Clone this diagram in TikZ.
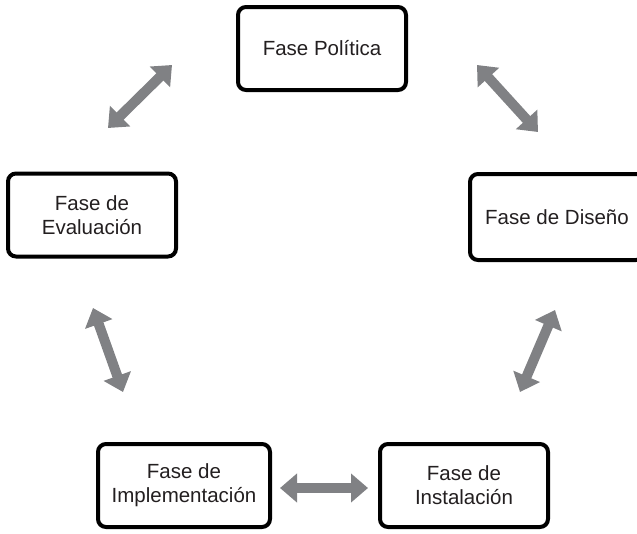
\documentclass[tikz,border=0pt]{standalone}
\usepackage{fontspec}
\setmainfont{Liberation Sans}
\usetikzlibrary{arrows.meta}
\definecolor{arrowgray}{RGB}{128,129,132}
\definecolor{textgray}{RGB}{35,31,32}

\begin{document}
\begin{tikzpicture}[x=1pt,y=-1pt,
    fase/.style={draw=black,line width=4pt,rounded corners=8pt,fill=white,
      minimum width=168pt,minimum height=83pt,align=center,inner sep=0pt,
      text=textgray,font=\fontsize{20.5}{24}\selectfont},
    bigarrow/.style={draw=arrowgray,line width=10pt,
      {Triangle[width=28pt,length=17pt]}-{Triangle[width=28pt,length=17pt]}}]
    \useasboundingbox (0,0) rectangle (637,533);
    \node[fase] (politica) at (322,48.5) {Fase Política};
    \node[fase,minimum height=86pt,minimum width=174pt] (diseno) at (557,217) {Fase de Diseño};
    \node[fase] (evaluacion) at (92,215) {Fase de\\Evaluación};
    \node[fase,minimum width=172pt] (implementacion) at (184,485.5) {Fase de\\Implementación};
    \node[fase] (instalacion) at (464,485.5) {Fase de\\Instalación};
    \coordinate (ev-po-a) at (108,128);
    \coordinate (ev-po-b) at (172,65);
    \coordinate (po-di-a) at (477,65);
    \coordinate (po-di-b) at (538,132);
    \coordinate (ev-im-a) at (93,308);
    \coordinate (ev-im-b) at (123,392);
    \coordinate (di-in-a) at (555,310);
    \coordinate (di-in-b) at (520,392);
    \coordinate (im-in-a) at (280,488);
    \coordinate (im-in-b) at (368,488);
    \draw[bigarrow] (ev-po-a) -- (ev-po-b);
    \draw[bigarrow] (po-di-a) -- (po-di-b);
    \draw[bigarrow] (ev-im-a) -- (ev-im-b);
    \draw[bigarrow] (di-in-a) -- (di-in-b);
    \draw[bigarrow] (im-in-a) -- (im-in-b);
\end{tikzpicture}
\end{document}
